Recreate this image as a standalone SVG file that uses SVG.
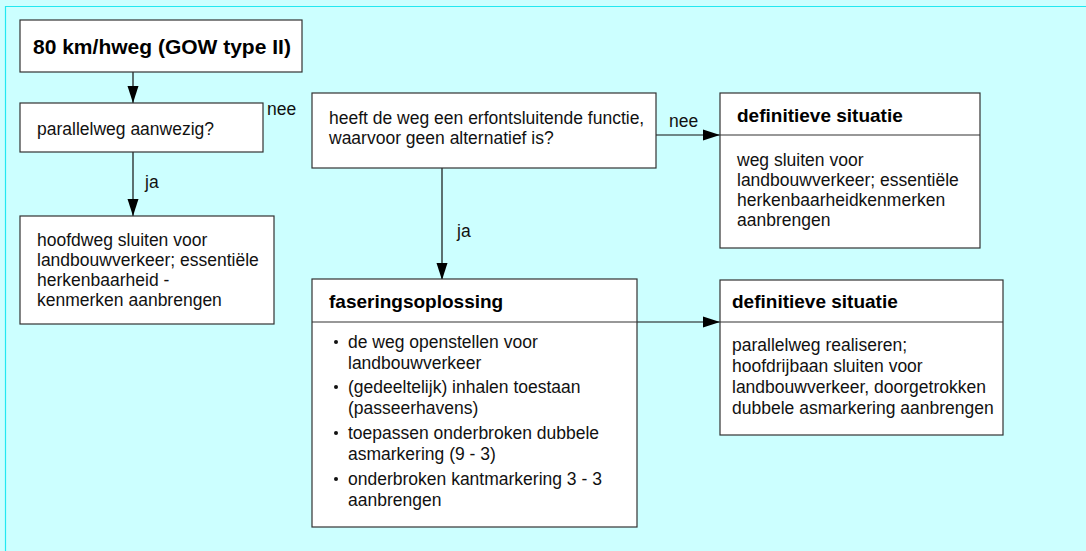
<svg xmlns="http://www.w3.org/2000/svg" width="1086" height="551" viewBox="0 0 1086 551">
<style>
.box{fill:#fff;stroke:#333;stroke-width:1.2}
.sep{stroke:#333;stroke-width:1.2}
.t{font-family:"Liberation Sans",Arial,sans-serif;font-size:17.5px;fill:#111}
.h{font-family:"Liberation Sans",Arial,sans-serif;font-size:19px;font-weight:bold;fill:#000}
.ti{font-family:"Liberation Sans",Arial,sans-serif;font-size:21px;font-weight:bold;fill:#000}
.c{stroke:#111;stroke-width:1.2;fill:none;marker-end:url(#ah)}
.dot{fill:#111}
</style>
<defs>
<marker id="ah" markerUnits="userSpaceOnUse" markerWidth="18" markerHeight="12" refX="17" refY="6" orient="auto">
<path d="M0,0.5 L17,6 L0,11.5 z" fill="#000"/>
</marker>
</defs>
<rect x="0" y="0" width="1086" height="551" fill="#ccffff"/>
<line x1="5" y1="6.5" x2="1086" y2="6.5" stroke="#22e8f0" stroke-width="1.2"/>
<line x1="5.5" y1="6" x2="5.5" y2="551" stroke="#22e8f0" stroke-width="1.2"/>

<g id="connectors">
<line class="c" x1="133" y1="72" x2="133" y2="103"/>
<line class="c" x1="133" y1="152" x2="133" y2="216"/>
<line class="c" x1="442" y1="168" x2="442" y2="280"/>
<line class="c" x1="656" y1="135" x2="720" y2="135"/>
<line class="c" x1="637" y1="322" x2="720" y2="322"/>
<text class="t" x="267" y="115">nee</text>
<text class="t" x="145" y="188">ja</text>
<text class="t" x="669" y="127">nee</text>
<text class="t" x="457" y="237">ja</text>
</g>

<g id="title">
<rect class="box" x="20" y="20" width="282" height="52"/>
<text class="ti" x="33" y="54">80 km/hweg (GOW type II)</text>
</g>

<g id="parallelweg">
<rect class="box" x="20" y="103" width="243" height="49"/>
<text class="t" x="37" y="135">parallelweg aanwezig?</text>
</g>

<g id="hoofdweg">
<rect class="box" x="20" y="216" width="254" height="108"/>
<text class="t" x="37" y="246">hoofdweg sluiten voor</text>
<text class="t" x="37" y="266">landbouwverkeer; essentiële</text>
<text class="t" x="37" y="286">herkenbaarheid -</text>
<text class="t" x="37" y="306">kenmerken aanbrengen</text>
</g>

<g id="vraag">
<rect class="box" x="312" y="93" width="344" height="75"/>
<text class="t" x="329" y="124">heeft de weg een erfontsluitende functie,</text>
<text class="t" x="329" y="144">waarvoor geen alternatief is?</text>
</g>

<g id="definitief1">
<rect class="box" x="720" y="93" width="260" height="155"/>
<line class="sep" x1="720" y1="135" x2="980" y2="135"/>
<text class="h" x="737" y="122">definitieve situatie</text>
<text class="t" x="737" y="166">weg sluiten voor</text>
<text class="t" x="737" y="186">landbouwverkeer; essentiële</text>
<text class="t" x="737" y="206">herkenbaarheidkenmerken</text>
<text class="t" x="737" y="226">aanbrengen</text>
</g>

<g id="fasering">
<rect class="box" x="312" y="279" width="325" height="248"/>
<line class="sep" x1="312" y1="322" x2="637" y2="322"/>
<text class="h" x="329" y="308">faseringsoplossing</text>
<circle class="dot" cx="336" cy="342" r="2"/>
<text class="t" x="348" y="348">de weg openstellen voor</text>
<text class="t" x="348" y="369">landbouwverkeer</text>
<circle class="dot" cx="336" cy="387" r="2"/>
<text class="t" x="348" y="393">(gedeeltelijk) inhalen toestaan</text>
<text class="t" x="348" y="414">(passeerhavens)</text>
<circle class="dot" cx="336" cy="433" r="2"/>
<text class="t" x="348" y="439">toepassen onderbroken dubbele</text>
<text class="t" x="348" y="460">asmarkering (9 - 3)</text>
<circle class="dot" cx="336" cy="479" r="2"/>
<text class="t" x="348" y="485">onderbroken kantmarkering 3 - 3</text>
<text class="t" x="348" y="506">aanbrengen</text>
</g>

<g id="definitief2">
<rect class="box" x="720" y="280" width="283" height="155"/>
<line class="sep" x1="720" y1="322" x2="1003" y2="322"/>
<text class="h" x="732" y="308">definitieve situatie</text>
<text class="t" x="732" y="351">parallelweg realiseren;</text>
<text class="t" x="732" y="372">hoofdrijbaan sluiten voor</text>
<text class="t" x="732" y="393">landbouwverkeer, doorgetrokken</text>
<text class="t" x="732" y="414">dubbele asmarkering aanbrengen</text>
</g>
</svg>
